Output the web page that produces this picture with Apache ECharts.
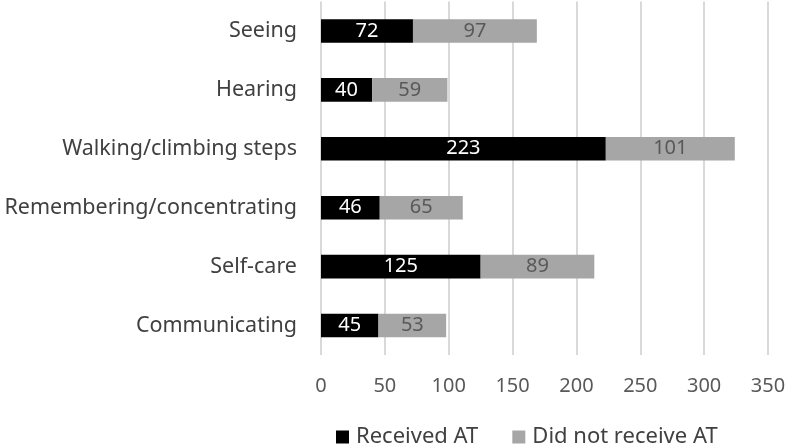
<!DOCTYPE html>
<html><head><meta charset="utf-8">
<script src="https://cdn.jsdelivr.net/npm/echarts@6/dist/echarts.min.js"></script>
<style>html,body{margin:0;padding:0;background:#fff}#c{width:787px;height:446px}</style>
</head><body><div id="c"></div>
<script>
const categories = ["Seeing","Hearing","Walking/climbing steps","Remembering/concentrating","Self-care","Communicating"];
const received = [72,40,223,46,125,45];
const notReceived = [97,59,101,65,89,53];
const seriesNames = ["Received AT","Did not receive AT"];
const FONT = "Noto Sans";
const chart = echarts.init(document.getElementById('c'), null, {renderer:'canvas'});
chart.setOption({
  animation:false,
  textStyle:{fontFamily:FONT},
  grid:{left:321,right:19,top:1.5,bottom:91,containLabel:false,outerBoundsMode:'none'},
  legend:{
    top:426,left:336,padding:0,itemWidth:13,itemHeight:13,itemGap:34,icon:'rect',
    textStyle:{fontSize:22,lineHeight:22,color:'#404040',fontFamily:FONT,padding:[0,0,0,2]},
    data:seriesNames
  },
  xAxis:{type:'value',min:0,max:350,interval:50,
    axisLine:{show:false},axisTick:{show:false},
    axisLabel:{fontSize:20,color:'#595959',margin:21,fontFamily:FONT},
    splitLine:{lineStyle:{color:'#d9d9d9',width:2}}},
  yAxis:{type:'category',data:categories,inverse:true,
    axisLine:{show:false},axisTick:{show:false},
    axisLabel:{fontSize:21.5,color:'#404040',margin:24,fontFamily:FONT,padding:[3,0,0,0]}},
  series:[
    {name:seriesNames[0],type:'bar',stack:'t',data:received,barWidth:'40%',
     itemStyle:{color:'#000000'},
     label:{show:true,position:'inside',color:'#ffffff',fontSize:20,fontFamily:FONT}},
    {name:seriesNames[1],type:'bar',stack:'t',data:notReceived,barWidth:'40%',
     itemStyle:{color:'#a6a6a6'},
     label:{show:true,position:'inside',color:'#595959',fontSize:20,fontFamily:FONT}}
  ]
});
</script></body></html>
